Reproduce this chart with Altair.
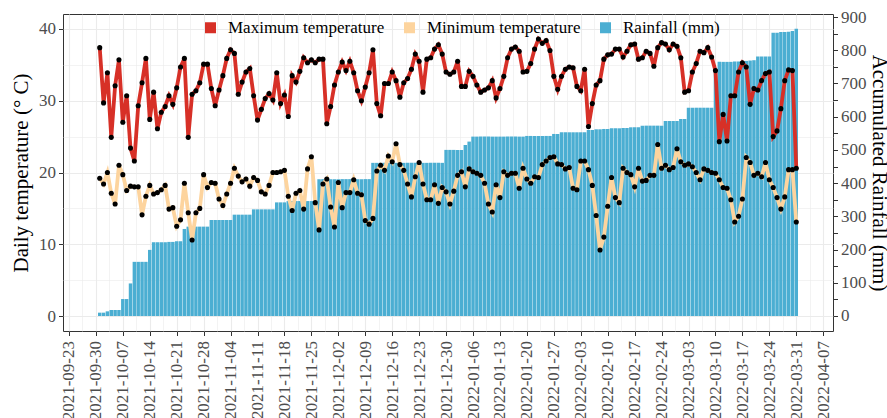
import altair as alt
import pandas as pd

# Daily observations, 1 Oct 2021 - 31 Mar 2022
dates = pd.date_range("2021-10-01", "2022-03-31", freq="D")

tmax = [
    37.4, 29.7, 33.9, 24.9, 32.1, 35.7, 27.0, 30.7, 23.4, 21.6,
    29.3, 32.5, 35.9, 27.4, 31.2, 26.1, 28.4, 29.2, 30.7, 29.5,
    31.8, 34.7, 35.9, 24.9, 30.9, 31.4, 32.5, 35.1, 35.1, 31.7,
    29.3, 31.5, 33.5, 35.9, 37.1, 36.6, 30.9, 32.6, 34.0, 34.5,
    30.7, 27.3, 28.8, 30.3, 31.0, 30.1, 33.9, 29.6, 30.8, 27.8,
    33.5, 32.6, 34.1, 36.0, 35.3, 35.7, 35.3, 35.8, 35.8, 26.8,
    29.2, 32.2, 34.0, 35.4, 34.2, 35.5, 33.9, 31.4, 30.0, 31.9,
    33.9, 37.1, 29.6, 27.9, 32.4, 32.4, 34.0, 32.8, 30.5, 32.5,
    33.1, 34.4, 36.5, 35.5, 31.2, 35.8, 36.0, 37.2, 37.8, 36.5,
    34.0, 33.7, 34.0, 35.5, 32.0, 32.0, 34.1, 33.4, 32.2, 31.2,
    31.5, 31.8, 32.8, 30.4, 31.7, 33.4, 36.0, 37.2, 37.5, 36.9,
    34.0, 34.1, 35.2, 37.2, 38.6, 38.0, 38.4, 37.0, 33.4, 31.6,
    33.4, 34.4, 34.7, 34.6, 32.0, 31.4, 34.4, 26.4, 29.6, 32.2,
    32.8, 35.8, 36.4, 36.5, 37.2, 37.2, 36.1, 36.9, 37.8, 37.9,
    35.8, 36.0, 36.9, 36.6, 34.8, 37.4, 38.1, 37.9, 37.1, 37.9,
    37.6, 36.0, 31.2, 31.4, 34.0, 35.2, 36.9, 36.7, 37.4, 36.1,
    34.2, 24.3, 28.1, 24.4, 30.7, 30.7, 34.0, 35.3, 34.7, 29.5,
    31.7, 31.5, 32.8, 33.8, 34.0, 25.0, 25.8, 28.9, 32.8, 34.3,
    34.2, 20.6,
]

tmin = [
    19.2, 18.4, 20.0, 17.1, 15.6, 21.0, 19.7, 17.5, 18.1, 18.0,
    18.0, 14.1, 16.7, 18.2, 17.0, 17.2, 17.6, 18.2, 14.9, 15.1,
    12.5, 13.4, 18.5, 14.4, 10.6, 14.4, 15.0, 19.7, 17.9, 18.6,
    18.5, 16.3, 15.4, 17.0, 18.5, 20.6, 19.5, 18.7, 19.1, 18.1,
    19.3, 18.9, 17.3, 17.0, 18.2, 20.0, 20.0, 20.1, 20.3, 16.7,
    14.7, 17.1, 17.5, 14.9, 20.5, 22.2, 15.8, 12.0, 18.4, 19.1,
    15.2, 12.4, 18.6, 15.1, 17.2, 17.2, 19.0, 17.1, 16.9, 13.3,
    12.8, 13.6, 20.2, 21.0, 20.3, 22.3, 21.5, 24.0, 21.1, 20.3,
    18.4, 16.6, 19.4, 21.4, 18.4, 16.2, 16.2, 18.3, 15.7, 17.9,
    17.3, 15.6, 17.4, 19.6, 20.1, 18.0, 20.5, 20.1, 19.9, 19.6,
    18.5, 15.6, 14.5, 18.3, 16.5, 20.1, 19.6, 19.9, 19.9, 17.8,
    20.6, 19.1, 18.5, 19.4, 19.3, 21.1, 21.6, 22.1, 22.2, 21.2,
    21.1, 20.5, 20.7, 17.8, 17.6, 21.6, 21.6, 20.4, 18.2, 14.0,
    9.2, 11.0, 15.3, 19.3, 16.5, 15.8, 20.6, 20.0, 19.7, 18.0,
    20.6, 18.8, 18.9, 19.6, 19.6, 23.9, 20.6, 21.0, 20.4, 20.7,
    23.3, 21.5, 21.0, 21.2, 20.8, 20.0, 19.0, 20.5, 20.3, 20.0,
    19.9, 19.0, 17.9, 17.8, 16.2, 13.1, 13.9, 16.3, 22.1, 21.4,
    19.6, 19.9, 19.4, 21.4, 19.0, 17.9, 16.5, 14.9, 16.6, 20.4,
    20.4, 13.1,
]

rain_cum = [
    10, 10, 14, 18, 18, 18, 51, 51, 98, 163,
    163, 163, 163, 199, 222, 222, 222, 222, 223, 223,
    225, 225, 262, 269, 269, 269, 269, 269, 269, 289,
    289, 289, 289, 289, 289, 305, 305, 305, 305, 305,
    321, 321, 321, 321, 321, 321, 342, 342, 342, 346,
    346, 346, 346, 346, 346, 346, 346, 412, 412, 412,
    412, 412, 412, 412, 412, 412, 412, 412, 412, 412,
    412, 461, 461, 461, 461, 461, 461, 461, 461, 461,
    461, 461, 461, 461, 461, 461, 461, 461, 461, 461,
    500, 500, 500, 500, 500, 515, 525, 540, 540, 540,
    540, 540, 540, 540, 540, 540, 540, 540, 540, 540,
    540, 542, 542, 542, 542, 542, 542, 542, 548, 548,
    553, 553, 553, 553, 553, 553, 553, 560, 560, 562,
    562, 563, 563, 565, 565, 565, 566, 566, 568, 568,
    568, 573, 573, 573, 573, 573, 573, 587, 587, 587,
    587, 593, 593, 627, 627, 627, 627, 627, 627, 627,
    735, 765, 765, 765, 765, 766, 766, 767, 768, 769,
    770, 781, 781, 781, 781, 853, 853, 855, 855, 856,
    858, 865,
]

series_names = ["Maximum temperature", "Minimum temperature", "Rainfall (mm)"]
series_colors = ["#D73027", "#FDD49E", "#4BAED2"]

# weekly ticks (Thursdays) and the mid-week minor grid positions
week_starts = pd.date_range("2021-09-23", "2022-04-07", freq="7D")

df = pd.DataFrame({"date": dates, "tmax": tmax, "tmin": tmin, "rain": rain_cum})
df["start"] = df["date"] - pd.Timedelta(hours=10.8)
df["end"] = df["date"] + pd.Timedelta(hours=10.8)
df["series"] = series_names[2]

FONT = "Liberation Serif"


def as_dt(ts):
    return alt.DateTime(year=ts.year, month=ts.month, date=ts.day, hours=ts.hour)


x_ticks = []
for ts in week_starts:
    x_ticks.append(as_dt(ts))
    mid = ts + pd.Timedelta(hours=84)
    if mid < pd.Timestamp("2022-04-09 13:00"):
        x_ticks.append(as_dt(mid))

x_scale = alt.Scale(
    domain=[
        alt.DateTime(year=2021, month=9, date=21, hours=11),
        alt.DateTime(year=2022, month=4, date=9, hours=13),
    ]
)
minor_x = "hours(datum.value) == 12"
x_axis = alt.Axis(
    values=x_ticks,
    labelExpr="hours(datum.value) == 12 ? '' : timeFormat(datum.value, '%Y-%m-%d')",
    labelAngle=270,
    labelPadding=5,
    tickSize=4.5,
    tickOpacity={"condition": {"test": minor_x, "value": 0}, "value": 1},
    grid=True,
    gridColor="#EBEBEB",
    gridWidth={"condition": {"test": minor_x, "value": 0.6}, "value": 1.1},
    labelOverlap=False,
    title=None,
)

t_scale = alt.Scale(domain=[-2.09, 42.09], nice=False, zero=False)
minor_y = "datum.value % 10 != 0"
t_axis = alt.Axis(
    orient="left",
    values=[0, 5, 10, 15, 20, 25, 30, 35, 40],
    labelExpr="datum.value % 10 == 0 ? datum.label : ''",
    tickSize=4.5,
    tickOpacity={"condition": {"test": minor_y, "value": 0}, "value": 1},
    grid=True,
    gridColor="#EBEBEB",
    gridWidth={"condition": {"test": minor_y, "value": 0.6}, "value": 1.1},
    labelPadding=3,
    titlePadding=7,
    title="Daily temperature (° C)",
)

r_scale = alt.Scale(domain=[-45.2, 909.1], nice=False, zero=False)
r_axis = alt.Axis(
    orient="right",
    values=list(range(0, 901, 50)),
    tickSize=4.5,
    grid=False,
    labelPadding=3,
    titlePadding=2,
    title="Accumulated Rainfall (mm)",
)

legend = alt.Legend(
    title=None,
    orient="none",
    legendX=139,
    legendY=5,
    direction="horizontal",
    symbolType="square",
    symbolSize=121,
    symbolStrokeWidth=0,
    labelFont=FONT,
    labelFontSize=17,
    labelColor="black",
    labelOffset=9,
    columnPadding=16,
)

base = alt.Chart(df)

bars = base.mark_rect().encode(
    x=alt.X("start:T", scale=x_scale, axis=x_axis),
    x2="end:T",
    y=alt.Y("rain:Q", scale=r_scale, axis=r_axis),
    y2=alt.datum(0),
    color=alt.Color(
        "series:N",
        scale=alt.Scale(domain=series_names, range=series_colors),
        legend=legend,
    ),
)

x_enc = alt.X("date:T", scale=x_scale, axis=x_axis)

max_line = base.mark_line(color=series_colors[0], strokeWidth=3.8).encode(
    x=x_enc, y=alt.Y("tmax:Q", scale=t_scale, axis=t_axis)
)
min_line = base.mark_line(color=series_colors[1], strokeWidth=3.8).encode(
    x=x_enc, y=alt.Y("tmin:Q", scale=t_scale, axis=t_axis)
)
max_pts = base.mark_circle(color="black", size=26, opacity=1).encode(
    x=x_enc, y=alt.Y("tmax:Q", scale=t_scale, axis=t_axis)
)
min_pts = base.mark_circle(color="black", size=26, opacity=1).encode(
    x=x_enc, y=alt.Y("tmin:Q", scale=t_scale, axis=t_axis)
)

temps = alt.layer(max_line, min_line, max_pts, min_pts)

chart = (
    alt.layer(bars, temps)
    .resolve_scale(y="independent")
    .properties(
        width=770,
        height=317,
        autosize=alt.AutoSizeParams(type="none"),
        padding={"left": 63, "top": 14, "right": 54, "bottom": 87},
        background="white",
    )
    .configure_axis(
        labelFont=FONT,
        titleFont=FONT,
        labelFontSize=17,
        titleFontSize=21,
        titleFontWeight="normal",
        labelColor="#4D4D4D",
        titleColor="black",
        tickColor="#333333",
        domain=False,
    )
    .configure_view(stroke="#333333", strokeWidth=1)
)

chart.save("out.html", embed_options={"renderer": "svg", "actions": False})
